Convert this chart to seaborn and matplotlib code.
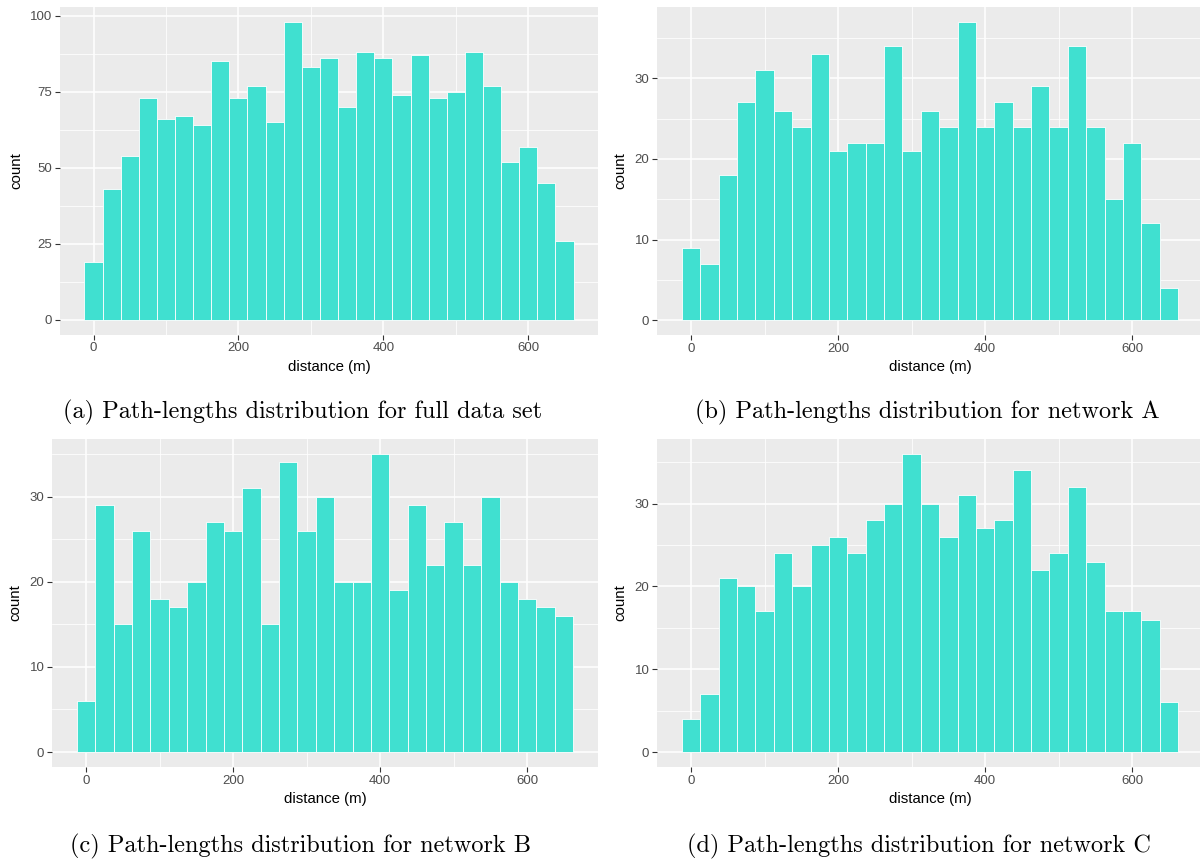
import numpy as np
import pandas as pd
import matplotlib
matplotlib.use("Agg")
import matplotlib.pyplot as plt
import seaborn as sns
from matplotlib.ticker import MultipleLocator

# ---- data (bin centres in metres, counts per bin) ----
bin_centers = [0, 25, 50, 75, 100, 125, 150, 175, 200, 225, 250, 275, 300, 325,
               350, 375, 400, 425, 450, 475, 500, 525, 550, 575, 600, 625, 650]
counts_full = [19, 43, 54, 73, 66, 67, 64, 85, 73, 77, 65, 98, 83, 86,
               70, 88, 86, 74, 87, 73, 75, 88, 77, 52, 57, 45, 26]
counts_A = [9, 7, 18, 27, 31, 26, 24, 33, 21, 22, 22, 34, 21, 26,
            24, 37, 24, 27, 24, 29, 24, 34, 24, 15, 22, 12, 4]
counts_B = [6, 29, 15, 26, 18, 17, 20, 27, 26, 31, 15, 34, 26, 30,
            20, 20, 35, 19, 29, 22, 27, 22, 30, 20, 18, 17, 16]
counts_C = [4, 7, 21, 20, 17, 24, 20, 25, 26, 24, 28, 30, 36, 30,
            26, 31, 27, 28, 34, 22, 24, 32, 23, 17, 17, 16, 6]
captions = ["(a) Path-lengths distribution for full data set",
            "(b) Path-lengths distribution for network A",
            "(c) Path-lengths distribution for network B",
            "(d) Path-lengths distribution for network C"]
x_label = "distance (m)"
y_label = "count"
x_ticks = [0, 200, 400, 600]
y_major = [25, 10, 10, 10]

FILL = "#40E0D0"
W, H = 1200, 859
fig = plt.figure(figsize=(W / 100, H / 100), dpi=100)

# axes rectangles in pixels: left, top, right, bottom
rects = [(60, 7, 598, 334.7), (657, 7, 1203, 335),
         (52, 439, 598, 767), (657, 439, 1203, 767)]
caption_xy = [(303, 412), (927, 412), (301, 846), (919, 846)]

binwidth = 25
lo = bin_centers[0] - binwidth / 2
hi = bin_centers[-1] + binwidth / 2

for i, counts in enumerate([counts_full, counts_A, counts_B, counts_C]):
    l, t, r, b = rects[i]
    ax = fig.add_axes([l / W, 1 - b / H, (r - l) / W, (b - t) / H])
    df = pd.DataFrame({"distance": bin_centers, "n": counts})
    sns.histplot(data=df, x="distance", weights="n", binwidth=binwidth,
                 binrange=(lo, hi), color=FILL, alpha=1, edgecolor="white",
                 linewidth=0.6, ax=ax, zorder=3)
    ax.set_facecolor("#EBEBEB")
    for s in ax.spines.values():
        s.set_visible(False)
    span = hi - lo
    ax.set_xlim(lo - 0.05 * span, hi + 0.05 * span)
    ymax = max(counts)
    ax.set_ylim(-0.05 * ymax, ymax * 1.05)
    ax.set_xticks(x_ticks)
    ax.xaxis.set_minor_locator(MultipleLocator(100))
    ax.yaxis.set_major_locator(MultipleLocator(y_major[i]))
    ax.yaxis.set_minor_locator(MultipleLocator(y_major[i] / 2))
    ax.grid(which="major", color="white", linewidth=1.1, zorder=0)
    ax.grid(which="minor", color="white", linewidth=0.55, zorder=0)
    ax.set_axisbelow(True)
    ax.tick_params(which="major", length=3.5, width=0.8, color="#333333",
                   labelsize=9.5, labelcolor="#4D4D4D", pad=2)
    ax.tick_params(which="minor", length=0)
    for lab in ax.get_xticklabels() + ax.get_yticklabels():
        lab.set_family("Liberation Sans")
    ax.set_xlabel(x_label, fontsize=10.8, family="Liberation Sans", labelpad=4)
    ax.set_ylabel(y_label, fontsize=10.8, family="Liberation Sans", labelpad=5)
    cx, cy = caption_xy[i]
    fig.text(cx / W, 1 - cy / H, captions[i], ha="center", va="center",
             fontsize=17.5, family="cmr10")

fig.savefig("out.png", dpi=100, facecolor="white")
